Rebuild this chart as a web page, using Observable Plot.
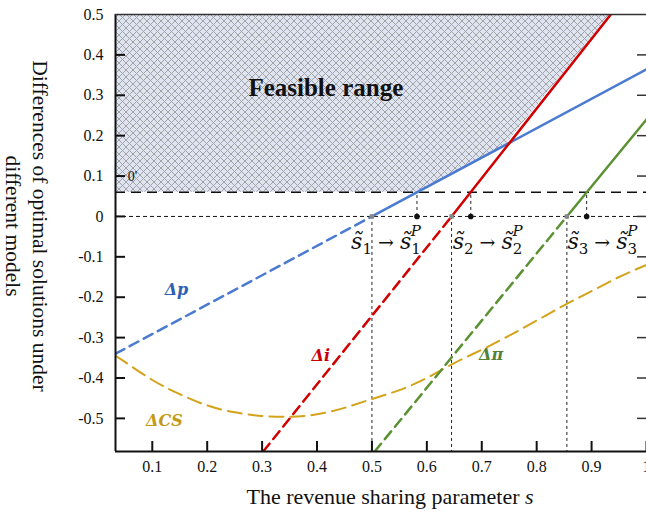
<!DOCTYPE html>
<html><head><meta charset="utf-8">
<script src="https://cdn.jsdelivr.net/npm/d3@7"></script>
<script src="https://cdn.jsdelivr.net/npm/@observablehq/plot@0.6"></script>
<style>body{margin:0;background:#fff} #chart{width:646px;height:512px}</style>
</head><body><div id="chart"></div>
<script>
// ---- data ----
const xTicks = [0.1, 0.2, 0.3, 0.4, 0.5, 0.6, 0.7, 0.8, 0.9, 1.0];
const yTicks = [0.5, 0.4, 0.3, 0.2, 0.1, 0, -0.1, -0.2, -0.3, -0.4, -0.5];
const xDomain = [0.033, 1.0];
const yDomain = [-0.582, 0.5];

// Δp (blue)
const dpS = [0.033, 0.5, 1.0];
const dpV = [-0.34, 0, 0.364];
// Δi (red)
const diS = [0.302, 0.645, 0.935];
const diV = [-0.582, 0, 0.5];
// Δπ (green)
const dpiS = [0.505, 0.855, 1.0];
const dpiV = [-0.582, 0, 0.24];
// ΔCS (gold)
const csS = [0.033, 0.05, 0.1, 0.15, 0.2, 0.25, 0.3, 0.35, 0.4, 0.45, 0.5, 0.55, 0.6, 0.65, 0.7, 0.75, 0.8, 0.85, 0.9, 0.95, 1.0];
const csV = [-0.345, -0.36, -0.405, -0.44, -0.468, -0.485, -0.494, -0.496, -0.49, -0.474, -0.452, -0.43, -0.40, -0.363, -0.33, -0.295, -0.258, -0.22, -0.185, -0.15, -0.12];

// threshold 0' and feasible range boundary
const threshold = 0.06;
const feasS = [0.033, 0.582, 0.744, 0.935];
const feasLow = [0.06, 0.06, 0.178, 0.5];
const feasHigh = 0.5;

// zero crossings s̃ and shifted s̃^P
const zeroS = [0.5, 0.645, 0.855];
const shiftS = [0.582, 0.68, 0.891];
const idx = ["1", "2", "3"];
const labelStart = [0.463, 0.648, 0.857];
const labelY = -0.083;

// labels
const seriesLabels = [
  {s: 0.144, v: -0.181, t: "Δp", c: "#2f5fb3"},
  {s: 0.407, v: -0.344, t: "Δi", c: "#cc0000"},
  {s: 0.717, v: -0.342, t: "Δπ", c: "#548235"},
  {s: 0.122, v: -0.507, t: "ΔCS", c: "#c49a14"}
];

// ---- build ----
const rows = (S, V) => S.map((s, i) => ({s, v: V[i]}));
const dp = rows(dpS, dpV), di = rows(diS, diV), dpi = rows(dpiS, dpiV), cs = rows(csS, csV);
const feas = rows(feasS, feasLow);
const neg = a => a.filter(d => d.v <= 0), pos = a => a.filter(d => d.v >= 0);

const cBlue = "#4a7bd0", cRed = "#d20000", cGreen = "#5a9132", cGold = "#d4a31a";
const serif = "Liberation Serif, Times New Roman, serif";
const W = 646, H = 512, mL = 115, mT = 14, mR = 0, mB = 61;
const fw = W - mL - mR, fh = H - mT - mB;

const plot = Plot.plot({
  width: W, height: H,
  marginLeft: mL, marginTop: mT, marginRight: mR, marginBottom: mB,
  style: {fontFamily: serif, fontSize: "16px", color: "#111", background: "#fff"},
  x: {domain: xDomain, axis: null},
  y: {domain: yDomain, axis: null},
  marks: [
    Plot.areaY(feas, {x: "s", y1: "v", y2: feasHigh, fill: "url(#hatch)"}),
    Plot.ruleY([0], {stroke: "#111", strokeWidth: 1, strokeDasharray: "4,3"}),
    Plot.ruleY([threshold], {stroke: "#111", strokeWidth: 1.5, strokeDasharray: "10,6"}),
    Plot.ruleX(zeroS, {y1: 0, y2: yDomain[0], stroke: "#222", strokeWidth: 1, strokeDasharray: "3,3"}),
    Plot.ruleX(shiftS, {y1: 0, y2: threshold, stroke: "#222", strokeWidth: 1, strokeDasharray: "3,3"}),
    Plot.line(cs, {x: "s", y: "v", stroke: cGold, strokeWidth: 2, strokeDasharray: "14,7", curve: "natural", clip: true}),
    Plot.line(neg(dp), {x: "s", y: "v", stroke: cBlue, strokeWidth: 2.5, strokeDasharray: "10,6", clip: true}),
    Plot.line(pos(dp), {x: "s", y: "v", stroke: cBlue, strokeWidth: 2.5, clip: true}),
    Plot.line(neg(di), {x: "s", y: "v", stroke: cRed, strokeWidth: 2.5, strokeDasharray: "10,6", clip: true}),
    Plot.line(pos(di), {x: "s", y: "v", stroke: cRed, strokeWidth: 2.5, clip: true}),
    Plot.line(neg(dpi), {x: "s", y: "v", stroke: cGreen, strokeWidth: 2.5, strokeDasharray: "10,6", clip: true}),
    Plot.line(pos(dpi), {x: "s", y: "v", stroke: cGreen, strokeWidth: 2.5, clip: true}),
    Plot.dot(zeroS, {x: d => d, y: 0, r: 2.5, fill: "#888", stroke: "none", symbol: "square"}),
    Plot.dot(shiftS, {x: d => d, y: 0, r: 2.8, fill: "#111", stroke: "none"}),
    Plot.text(seriesLabels, {x: "s", y: "v", text: "t", fill: "c", fontSize: 16, fontWeight: "bold", fontStyle: "italic", fontFamily: "DejaVu Serif, serif"}),
    Plot.text(["Feasible range"], {x: 0.416, y: 0.317, fontSize: 25, fontWeight: "bold", fill: "#111"}),
    Plot.text(["0'"], {x: 0.064, y: 0.099, fontSize: 14, fill: "#111"}),
    // tick marks (inward)
    Plot.tickX(xTicks, {insetTop: fh - 10, stroke: "#111", strokeWidth: 2}),
    Plot.tickY(yTicks.filter(d => d < 0.5), {insetRight: fw - 10, stroke: "#111", strokeWidth: 2}),
    Plot.tickY(yTicks.filter(d => d < 0.5), {insetLeft: fw - 9, stroke: "#333", strokeWidth: 1.5}),
    // tick labels
    Plot.axisX({ticks: xTicks, tickSize: 0, tickPadding: 9, label: null, tickFormat: d => String(+d.toFixed(1)), fontSize: 16}),
    Plot.axisY({ticks: yTicks, tickSize: 0, tickPadding: 12, label: null, tickFormat: d => d === 0 ? "0" : d.toFixed(1), fontSize: 16}),
    // frame lines
    Plot.ruleX([xDomain[0]], {stroke: "#111", strokeWidth: 2}),
    Plot.ruleY([yDomain[0]], {stroke: "#111", strokeWidth: 2}),
    Plot.ruleY([yDomain[1]], {stroke: "#333", strokeWidth: 1.5}),
    Plot.text(["Differences of optimal solutions under\ndifferent models"], {frameAnchor: "left", textAnchor: "middle", dx: -87, dy: -7, rotate: 90, fontSize: 21.5, lineHeight: 1.25, fill: "#111"})
  ]
});

// hatch pattern
const svg = d3.select(plot);
const defs = svg.insert("defs", ":first-child");
const pat = defs.append("pattern").attr("id", "hatch").attr("patternUnits", "userSpaceOnUse").attr("width", 7).attr("height", 7);
pat.append("rect").attr("width", 7).attr("height", 7).attr("fill", "#dfe4f2");
pat.append("path").attr("d", "M0,0L7,7M7,0L0,7M-1,6L1,8M6,-1L8,1").attr("stroke", "#a3a3a3").attr("stroke-width", 1).attr("fill", "none");

// math labels s̃_i → s̃_i^P, positioned with the plot's scales
const sx = plot.scale("x"), sy = plot.scale("y");
const mathFont = "DejaVu Serif, serif";
labelStart.forEach((s0, i) => {
  const t = svg.append("text")
    .attr("x", sx.apply(s0)).attr("y", sy.apply(labelY)).attr("text-anchor", "start")
    .attr("font-family", mathFont).attr("font-size", 22).attr("fill", "#111");
  t.append("tspan").attr("font-style", "italic").text("s\u0303");
  t.append("tspan").attr("font-size", 15).attr("dy", 5).text(idx[i]);
  t.append("tspan").attr("dy", -5).attr("font-size", 19).text(" \u2192 ");
  t.append("tspan").attr("font-style", "italic").text("s\u0303");
  t.append("tspan").attr("font-size", 15).attr("dy", 5).text(idx[i]);
  t.append("tspan").attr("font-size", 15).attr("font-style", "italic").attr("dx", -10).attr("dy", -18).text("P");
});

// x-axis title
const xt = svg.append("text").attr("x", 390).attr("y", 504).attr("text-anchor", "middle")
  .attr("font-family", serif).attr("font-size", 22).attr("fill", "#111");
xt.append("tspan").text("The revenue sharing parameter ");
xt.append("tspan").attr("font-style", "italic").text("s");

document.getElementById("chart").append(plot);
</script>
</body></html>
